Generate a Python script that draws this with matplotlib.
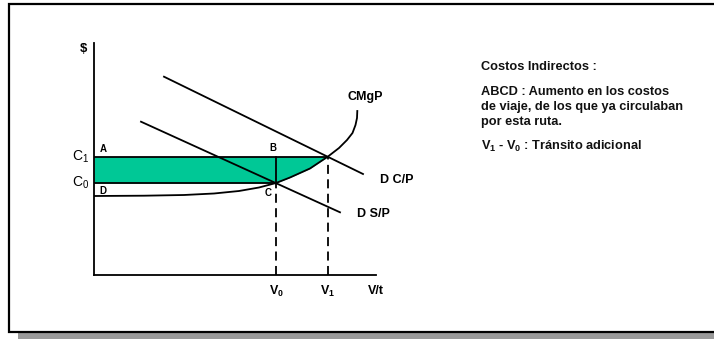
import numpy as np
import matplotlib
matplotlib.use('Agg')
import matplotlib.pyplot as plt
from matplotlib.patches import Rectangle

plt.rcParams['font.family'] = ['Liberation Sans', 'DejaVu Sans']
plt.rcParams['mathtext.fontset'] = 'custom'
plt.rcParams['mathtext.rm'] = 'Liberation Sans'
plt.rcParams['mathtext.bf'] = 'Liberation Sans:bold'
plt.rcParams['mathtext.it'] = 'Liberation Sans:italic'

# chart values (arbitrary units)
v0 = 182
v1 = 234
c1 = 118.5
c0 = 92

# CMgP curve
cmg_x = np.array([0, 50, 90, 120, 145, 165, 182, 196, 216, 234, 245, 253, 258.5, 261.5, 263, 263.3])
cmg_y = np.array([79, 79.3, 80, 81.5, 84, 87.5, 92, 97.5, 106.5, 118.5, 127, 135, 142, 150, 157, 164])

# demand lines (end points)
dcp_x = [70, 269]
dcp_y = [198.3, 101]
dsp_x = [47, 246]
dsp_y = [153.3, 62.7]

notes = ['Costos Indirectos :',
         'ABCD : Aumento en los costos',
         'de viaje, de los que ya circulaban',
         'por esta ruta.',
         r'$\mathbf{V_1}$ - $\mathbf{V_0}$ : Tránsito adicional']


def main():
	W, H = 714, 339
	fig = plt.figure(figsize=(W/100, H/100), dpi=100)

	# frame with drop shadow
	fig.patches.append(Rectangle((18/W, 0), 1, 1 - 9/H, transform=fig.transFigure,
	                             facecolor='#999999', edgecolor='none', zorder=-2))
	fig.patches.append(Rectangle((9/W, 1 - 332/H), 1, (332-4)/H, transform=fig.transFigure,
	                             facecolor='white', edgecolor='black', lw=1.6, zorder=-1))

	ax = fig.add_axes([94/W, 1 - 275/H, 282/W, 232/H])
	ax.set_zorder(2)
	ax.set_xlim(0, 282)
	ax.set_ylim(0, 232)
	ax.patch.set_alpha(0)
	for s in ['top', 'right']:
		ax.spines[s].set_visible(False)
	for s in ['left', 'bottom']:
		ax.spines[s].set_linewidth(1.3)
	ax.set_xticks([])
	ax.set_yticks([])

	lw = 1.3
	green = '#00C896'

	# shaded area ABCD
	ax.fill_between(cmg_x, np.maximum(cmg_y, c0), c1, where=cmg_x <= v1,
	                color=green, lw=0, zorder=1)

	ax.plot([0, v1], [c1, c1], color='black', lw=lw, zorder=3)
	ax.plot([0, v0], [c0, c0], color='black', lw=lw, zorder=3)
	ax.plot([v0, v0], [c0, c1], color='black', lw=lw, zorder=3)
	ax.plot(cmg_x, cmg_y, color='black', lw=lw, zorder=3)
	ax.plot(dcp_x, dcp_y, color='black', lw=lw, zorder=3)
	ax.plot(dsp_x, dsp_y, color='black', lw=lw, zorder=3)

	ax.plot([v0, v0], [0, c0], color='black', lw=lw, ls=(0, (5, 3)), zorder=3)
	ax.plot([v1, v1], [0, c1], color='black', lw=lw, ls=(0, (5, 3)), zorder=3)

	kw = dict(fontweight='bold', clip_on=False)
	ax.text(-11, 226, '$', fontsize=9.5, ha='center', va='center', **kw)
	ax.text(-5, c1, r'$\mathrm{C_1}$', fontsize=10, ha='right', va='center', clip_on=False)
	ax.text(-5, c0, r'$\mathrm{C_0}$', fontsize=10, ha='right', va='center', clip_on=False)
	ax.text(9, 125.5, 'A', fontsize=7, ha='center', va='center', **kw)
	ax.text(178.7, 127, 'B', fontsize=7, ha='center', va='center', **kw)
	ax.text(174, 82, 'C', fontsize=7, ha='center', va='center', **kw)
	ax.text(9, 83.5, 'D', fontsize=7, ha='center', va='center', **kw)
	ax.text(271, 178.3, 'CMgP', fontsize=9, ha='center', va='center', **kw)
	ax.text(286, 95, 'D C/P', fontsize=9, ha='left', va='center', **kw)
	ax.text(262.7, 61, 'D S/P', fontsize=9, ha='left', va='center', **kw)
	ax.text(v0, -16, r'$\mathbf{V_0}$', fontsize=9, ha='center', va='center', **kw)
	ax.text(v1, -16, r'$\mathbf{V_1}$', fontsize=9, ha='center', va='center', **kw)
	ax.text(282, -16, 'V/t', fontsize=9, ha='center', va='center', **kw)

	ys = [67, 91.7, 106.7, 121.7, 146.7]
	for s, y in zip(notes, ys):
		fig.text(480.7/W, 1 - y/H, s, fontsize=9.2, fontweight='bold',
		         ha='left', va='center', color='#111111')

	fig.savefig('out.png', dpi=100)


if __name__ == '__main__':
	main()
